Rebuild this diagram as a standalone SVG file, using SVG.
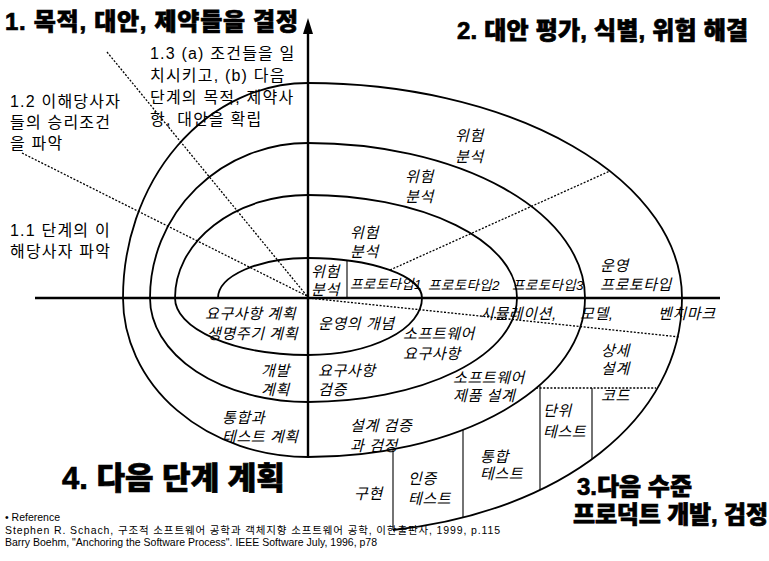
<svg xmlns="http://www.w3.org/2000/svg" width="769" height="561" viewBox="0 0 769 561">
<style>
text{font-family:"Liberation Sans","Noto Sans CJK KR",sans-serif;fill:#000}
.title{font-size:24px;font-weight:900;stroke:#000;stroke-width:0.7}
.lbl{font-size:16px;letter-spacing:1.2px}
.it{font-size:15px;font-style:italic;letter-spacing:0.6px}
.sm{font-size:13.5px;font-style:italic;letter-spacing:0.4px}
.ref{font-size:10.5px}
.axis{stroke:#000;stroke-width:2.4;fill:none}
.spiral{stroke:#000;stroke-width:1.8;fill:none}
.thin{stroke:#000;stroke-width:1.1;fill:none}
.dot{stroke:#000;stroke-width:1.3;stroke-dasharray:2 1.6;fill:none}
</style>
<rect width="769" height="561" fill="#fff"/>
<g id="connectors">
<line class="axis" x1="35" y1="298" x2="720" y2="298"/>
<line class="axis" x1="308" y1="457" x2="308" y2="33"/>
<path d="M303 34 L308 18 L313 34 Z" fill="#000"/>
<path class="spiral" d="M218 298 A90 40 0 0 1 308 258 A114 40 0 0 1 422 298 A114 57 0 0 1 308 355 A133 57 0 0 1 175 298 A133 103 0 0 1 308 195 A209 103 0 0 1 517 298 A209 104 0 0 1 308 402 A158 104 0 0 1 150 298 A158 155 0 0 1 308 143 A277 155 0 0 1 585 298 A277 159 0 0 1 308 457 A185 159 0 0 1 123 298 A185 215 0 0 1 308 83 A374 215 0 0 1 682 298 C682 420 560 512 393 530"/>
<line class="dot" x1="107" y1="52" x2="307" y2="296"/>
<line class="dot" x1="22" y1="153" x2="307" y2="296"/>
<line class="dot" x1="390" y1="270" x2="610" y2="171"/>
<line class="dot" x1="308" y1="298" x2="680" y2="337"/>
<line class="dot" x1="536" y1="388" x2="656" y2="388"/>
<line class="thin" x1="347" y1="260" x2="347" y2="298"/>
<line class="thin" x1="540" y1="386" x2="540" y2="490"/>
<line class="thin" x1="592" y1="388" x2="592" y2="459"/>
<line class="thin" x1="463" y1="430" x2="463" y2="518"/>
<line class="thin" x1="393" y1="449" x2="393" y2="530"/>
</g>
<g id="q1-title"><text class="title" x="5" y="30" textLength="293">1. 목적, 대안, 제약들을 결정</text></g>
<g id="q2-title"><text class="title" x="457" y="39" textLength="291">2. 대안 평가, 식별, 위험 해결</text></g>
<g id="q3-title"><text class="title" x="577" y="495">3.다음 수준</text><text class="title" x="573" y="523" textLength="195">프로덕트 개발, 검정</text></g>
<g id="q4-title"><text class="title" x="62" y="489" style="font-size:31px">4. 다음 단계 계획</text></g>
<g id="step13"><text class="lbl" x="150" y="59">1.3 (a) 조건들을 일</text><text class="lbl" x="150" y="81">치시키고, (b) 다음</text><text class="lbl" x="150" y="103">단계의 목적, 제약사</text><text class="lbl" x="150" y="125">항, 대안을 확립</text></g>
<g id="step12"><text class="lbl" x="10" y="107">1.2 이해당사자</text><text class="lbl" x="10" y="128">들의 승리조건</text><text class="lbl" x="10" y="149">을 파악</text></g>
<g id="step11"><text class="lbl" x="10" y="236">1.1 단계의 이</text><text class="lbl" x="10" y="257">해당사자 파악</text></g>
<g id="risk4"><text class="it" x="455" y="141">위험</text><text class="it" x="455" y="162">분석</text></g>
<g id="risk3"><text class="it" x="405" y="182">위험</text><text class="it" x="405" y="202">분석</text></g>
<g id="risk2"><text class="it" x="350" y="238">위험</text><text class="it" x="350" y="257">분석</text></g>
<g id="risk1"><text class="it" x="311" y="277">위험</text><text class="it" x="311" y="295">분석</text></g>
<g id="proto1"><text class="sm" x="350" y="289">프로토타입1</text></g>
<g id="proto2"><text class="sm" x="428" y="290">프로토타입2</text></g>
<g id="proto3"><text class="sm" x="512" y="290">프로토타입3</text></g>
<g id="opproto"><text class="it" x="600" y="271">운영</text><text class="it" x="600" y="290">프로토타입</text></g>
<g id="sim"><text class="it" x="480" y="319">시뮬레이션,</text><text class="it" x="580" y="319">모델,</text><text class="it" x="658" y="319">벤치마크</text></g>
<g id="reqplan"><text class="it" x="205" y="319">요구사항 계획</text><text class="it" x="207" y="339">생명주기 계획</text></g>
<g id="concept"><text class="it" x="318" y="329">운영의 개념</text></g>
<g id="swreq"><text class="it" x="403" y="339">소프트웨어</text><text class="it" x="403" y="359">요구사항</text></g>
<g id="devplan"><text class="it" x="261" y="376">개발</text><text class="it" x="261" y="395">계획</text></g>
<g id="reqval"><text class="it" x="318" y="376">요구사항</text><text class="it" x="318" y="395">검증</text></g>
<g id="swdesign"><text class="it" x="453" y="383">소프트웨어</text><text class="it" x="453" y="401">제품 설계</text></g>
<g id="detail"><text class="it" x="601" y="356">상세</text><text class="it" x="601" y="374">설계</text></g>
<g id="code"><text class="it" x="601" y="401">코드</text></g>
<g id="unit"><text class="it" x="543" y="416">단위</text><text class="it" x="543" y="437">테스트</text></g>
<g id="intplan"><text class="it" x="222" y="423">통합과</text><text class="it" x="222" y="442">테스트 계획</text></g>
<g id="desval"><text class="it" x="350" y="431">설계 검증</text><text class="it" x="350" y="451">과 검정</text></g>
<g id="inttest"><text class="it" x="480" y="462">통합</text><text class="it" x="480" y="479">테스트</text></g>
<g id="acctest"><text class="it" x="408" y="484">인증</text><text class="it" x="408" y="504">테스트</text></g>
<g id="impl"><text class="it" x="354" y="499">구현</text></g>
<g id="reference"><text class="ref" x="5" y="521">• Reference</text><text class="ref" x="5" y="534" textLength="495">Stephen R. Schach, 구조적 소프트웨어 공학과 객체지향 소프트웨어 공학, 이한출판사, 1999, p.115</text><text class="ref" x="5" y="546">Barry Boehm, "Anchoring the Software Process". IEEE Software July, 1996, p78</text></g>
</svg>
